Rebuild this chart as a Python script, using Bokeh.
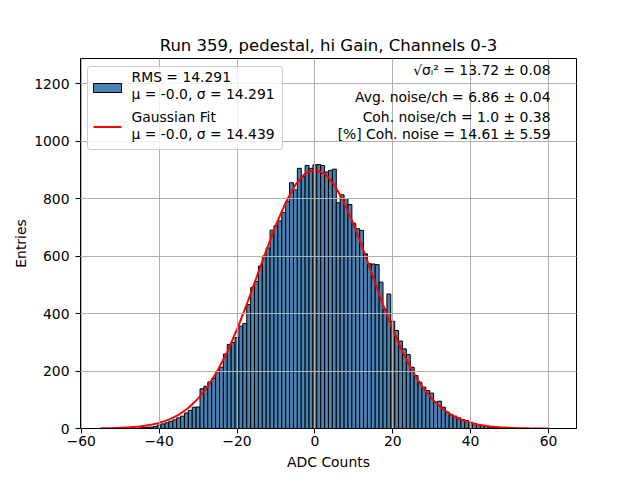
from bokeh.plotting import figure
from bokeh.models import Range1d, Label, FixedTicker, ColumnDataSource, BoxAnnotation
from bokeh.embed import file_html
from bokeh.resources import INLINE

# ---------------- data ----------------
bin_centers = list(range(-45, 49))
counts = [2, 3, 4, 5, 7, 12, 16, 20, 25, 30,          # -45 .. -36
          37, 43, 54, 63, 74, 75, 138, 147, 162, 174,  # -35 .. -26
          200, 213, 259, 292, 299, 316, 356, 365, 431, 490,  # -25 .. -16
          511, 565, 600, 628, 690, 705, 722, 752, 790, 855,  # -15 .. -6
          830, 905, 876, 915, 905, 917, 918, 915, 892, 898,  # -5 .. 4
          902, 785, 813, 800, 779, 714, 695, 689, 608, 573,  # 5 .. 14
          572, 570, 509, 413, 468, 373, 341, 304, 277, 257,  # 15 .. 24
          213, 184, 161, 144, 132, 123, 92, 95, 74, 57,      # 25 .. 34
          49, 43, 37, 31, 28, 22, 18, 14, 10, 7,             # 35 .. 44
          5, 4, 3, 2]                                        # 45 .. 48
bin_width = 1.0

fit_x = [-55, -52.5, -50, -47.5, -45, -42.5, -40, -37.5, -35, -32.5,
         -30, -27.5, -25, -22.5, -20, -17.5, -15, -12.5, -10, -7.5,
         -5, -2.5, 0, 2.5, 5, 7.5, 10, 12.5, 15, 17.5,
         20, 22.5, 25, 27.5, 30, 32.5, 35, 37.5, 40, 42.5,
         45, 47.5, 50, 52.5, 55, 57.5, 60]
fit_y = [0.6, 1.2, 2.2, 4.0, 7.0, 11.8, 19.4, 30.9, 47.7, 71.5,
         104, 146.8, 201, 267, 345, 432, 525, 619, 708, 786,
         848, 887, 900, 887, 848, 786, 708, 619, 525, 432,
         345, 267, 201, 146.8, 104, 71.5, 47.7, 30.9, 19.4, 11.8,
         7.0, 4.0, 2.2, 1.2, 0.6, 0.3, 0.2]

x_ticks = [-60, -40, -20, 0, 20, 40, 60]
y_ticks = [0, 200, 400, 600, 800, 1000, 1200]

title_text = "Run 359, pedestal, hi Gain, Channels 0-3"
x_label = "ADC Counts"
y_label = "Entries"
hist_label_lines = ["RMS = 14.291", "μ = -0.0, σ = 14.291"]
fit_label_lines = ["Gaussian Fit", "μ = -0.0, σ = 14.439"]
stats_lines = ["√σᵢ² = 13.72 ± 0.08",
               "Avg. noise/ch = 6.86 ± 0.04",
               "Coh. noise/ch = 1.0 ± 0.38",
               "[%] Coh. noise = 14.61 ± 5.59"]

BAR_COLOR = "#4682b4"
FIT_COLOR = "red"

# ---------------- figure ----------------
FONT = "DejaVu Sans"
p = figure(frame_width=496, frame_height=370,
           x_range=Range1d(-60.2, 67.2), y_range=Range1d(0, 1287),
           output_backend="svg", toolbar_location=None,
           min_border_left=80, min_border_right=64,
           min_border_top=58, min_border_bottom=52,
           background_fill_color="white", border_fill_color="white")

p.title.text = title_text
p.title.align = "center"
p.title.text_font = FONT
p.title.text_font_size = "16.5px"
p.title.text_font_style = "normal"
p.title.text_color = "black"
p.title.standoff = 7

src = ColumnDataSource(dict(
    left=[c - bin_width / 2 for c in bin_centers],
    right=[c + bin_width / 2 for c in bin_centers],
    top=counts,
    bottom=[0] * len(counts),
))
bars = p.quad(left="left", right="right", top="top", bottom="bottom", source=src,
              fill_color=BAR_COLOR, line_color="black", line_width=1)
fit = p.line(fit_x, fit_y, line_color=FIT_COLOR, line_width=2)

for ax in (p.xaxis, p.yaxis):
    ax.axis_line_color = "black"
    ax.major_tick_line_color = "black"
    ax.major_tick_in = 0
    ax.major_tick_out = 5
    ax.minor_tick_line_color = None
    ax.major_label_text_font = FONT
    ax.major_label_text_font_size = "13.9px"
    ax.major_label_text_color = "black"
    ax.axis_label_text_font = FONT
    ax.axis_label_text_font_size = "13.9px"
    ax.axis_label_text_font_style = "normal"
    ax.axis_label_text_color = "black"

p.xaxis.major_label_standoff = 2
p.yaxis.major_label_standoff = 6
p.xaxis.ticker = FixedTicker(ticks=x_ticks)
p.yaxis.ticker = FixedTicker(ticks=y_ticks)
p.xaxis.axis_label = x_label
p.yaxis.axis_label = y_label
p.xaxis.axis_label_standoff = 5
p.yaxis.axis_label_standoff = 2

p.xgrid.ticker = FixedTicker(ticks=x_ticks)
p.ygrid.ticker = FixedTicker(ticks=y_ticks)
p.grid.grid_line_color = "#b0b0b0"
p.grid.grid_line_width = 1
p.grid.level = "guide"

p.outline_line_color = "black"
p.outline_line_width = 1

# ---------------- legend (drawn by hand, frame-relative screen px) ----------------
p.add_layout(BoxAnnotation(left=7, right=202, top=362, bottom=279,
                           left_units="screen", right_units="screen",
                           top_units="screen", bottom_units="screen",
                           fill_color="white", fill_alpha=0.8,
                           line_color="#cccccc", line_width=1, line_alpha=1,
                           border_radius=3))
p.add_layout(BoxAnnotation(left=13, right=41, top=345, bottom=336,
                           left_units="screen", right_units="screen",
                           top_units="screen", bottom_units="screen",
                           fill_color=BAR_COLOR, fill_alpha=1,
                           line_color="black", line_width=1, line_alpha=1))
p.add_layout(BoxAnnotation(left=13, right=41, top=302.5, bottom=300.5,
                           left_units="screen", right_units="screen",
                           top_units="screen", bottom_units="screen",
                           fill_color=FIT_COLOR, fill_alpha=1,
                           line_color=None))
legend_text = hist_label_lines + fit_label_lines
legend_y = [352, 335, 312, 295]
for txt, yy in zip(legend_text, legend_y):
    p.add_layout(Label(x=51, y=yy, x_units="screen", y_units="screen", text=txt,
                       text_align="left", text_baseline="alphabetic",
                       text_font=FONT, text_font_size="13.9px", text_color="black"))

stats_y = [359, 332, 312, 295]
for txt, yy in zip(stats_lines, stats_y):
    p.add_layout(Label(x=470, y=yy, x_units="screen", y_units="screen", text=txt,
                       text_align="right", text_baseline="alphabetic",
                       text_font=FONT, text_font_size="13.9px", text_color="black"))

open("out.html", "w").write(file_html(p, INLINE))
